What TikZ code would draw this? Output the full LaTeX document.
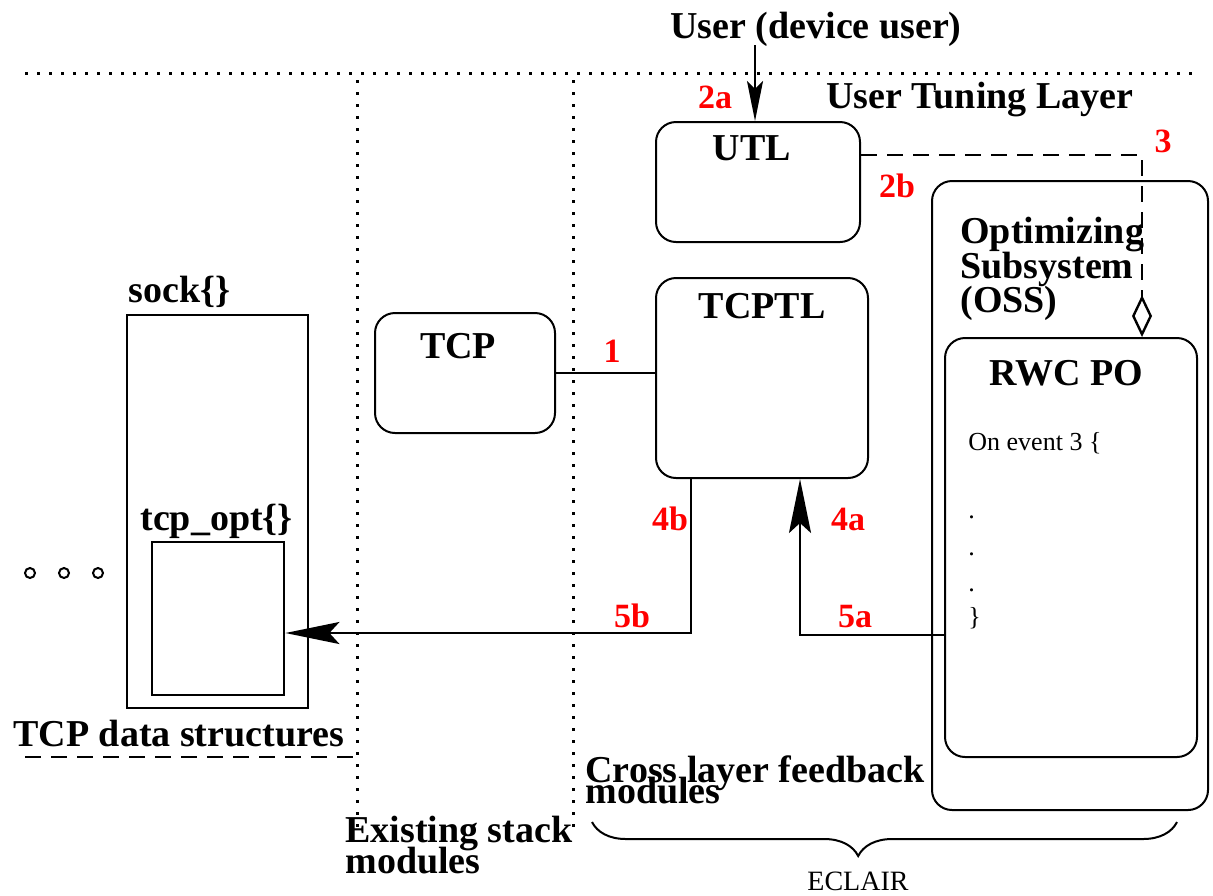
\documentclass[tikz,border=0pt]{standalone}
\usepackage{fontspec}
\setmainfont{Liberation Serif}
\usetikzlibrary{arrows.meta,decorations.pathreplacing,calc}
\begin{document}
\begin{tikzpicture}[x=0.5pt,y=-0.5pt,
  lbl/.style={font=\fontsize{19}{19}\selectfont\bfseries, inner sep=0pt},
  num/.style={font=\fontsize{17}{17}\selectfont\bfseries, text=red, inner sep=0pt},
  code/.style={font=\fontsize{13}{13}\selectfont, inner sep=0pt},
  rbox/.style={draw, line width=1pt, rounded corners=10pt, inner sep=0pt},
  sbox/.style={draw, line width=1.4pt, inner sep=0pt},
  conn/.style={line width=1.2pt},
  arr/.style={conn, -{Stealth[length=27pt,width=11pt,inset=5pt]}},
  uarr/.style={conn, -{Stealth[length=20pt,width=8pt,inset=4pt]}},
  sep/.style={line width=1.5pt, dash pattern=on 1.5pt off 4.5pt},
  dashline/.style={line width=1.2pt, dash pattern=on 8pt off 5pt},
]
\useasboundingbox (0,0) rectangle (1213,895);

% separators
\draw[sep] (25,73) -- (1195,73);
\draw[sep] (357,80) -- (357,835);
\draw[sep] (573,80) -- (573,835);
\draw[dashline] (25,757) -- (357,757);

% boxes
\node[rbox, minimum width=102pt, minimum height=60pt] (utl) at (758,182) {};
\node[rbox, minimum width=106pt, minimum height=100pt] (tcptl) at (762,378) {};
\node[rbox, minimum width=90pt, minimum height=60pt] (tcp) at (465,373) {};
\node[rbox, minimum width=138pt, minimum height=314.5pt] (oss) at (1070,495.5) {};
\node[rbox, minimum width=126pt, minimum height=209.5pt] (rwc) at (1071,547.5) {};
\node[sbox, minimum width=90.5pt, minimum height=196.5pt] (sock) at (217.5,511.5) {};
\node[sbox, minimum width=66pt, minimum height=76.5pt] (tcpopt) at (218,618.5) {};

% box labels
\node[lbl, anchor=base] (utlL) at (752,160) {UTL};
\node[lbl, anchor=base] (tcptlL) at (762,318) {TCPTL};
\node[lbl, anchor=base] (tcpL) at (458,358) {TCP};
\node[lbl, anchor=base] (rwcL) at (1066,385) {RWC PO};
\node[lbl, anchor=base west] (ossL1) at (960,243) {Optimizing};
\node[lbl, anchor=base west] (ossL2) at (960,278) {Subsystem};
\node[lbl, anchor=base west] (ossL3) at (960,312) {(OSS)};
\node[lbl, anchor=base west] (sockL) at (128,302) {sock\{\}};
\node[lbl, anchor=base west] (optL) at (140,530) {tcp\_opt\{\}};

% code in RWC PO
\node[code, anchor=base west] (c1) at (968,450) {On event 3 \{};
\node[code, anchor=base west] (c2) at (968,518) {.};
\node[code, anchor=base west] (c3) at (968,555) {.};
\node[code, anchor=base west] (c4) at (968,591) {.};
\node[code, anchor=base west] (c5) at (968,625) {\}};

% other texts
\node[lbl, anchor=base] (user) at (816,38) {User (device user)};
\node[lbl, anchor=base west] (utlayer) at (826,108) {User Tuning Layer};
\node[lbl, anchor=base west] (tcpds) at (13,746) {TCP data structures};
\node[lbl, anchor=base west] (cl1) at (585,782) {Cross layer feedback};
\node[lbl, anchor=base west] (cl2) at (585,803) {modules};
\node[lbl, anchor=base west] (es1) at (345,842) {Existing stack};
\node[lbl, anchor=base west] (es2) at (345,873) {modules};
\node[font=\fontsize{14}{14}\selectfont, inner sep=0pt, anchor=base] (eclair) at (858,890) {ECLAIR};

% red numbers
\node[num, anchor=base] (n2a) at (715,108) {2a};
\node[num, anchor=base] (n2b) at (897,197) {2b};
\node[num, anchor=base] (n3) at (1163,152) {3};
\node[num, anchor=base] (n1) at (612,362) {1};
\node[num, anchor=base] (n4b) at (670,530) {4b};
\node[num, anchor=base] (n4a) at (848,530) {4a};
\node[num, anchor=base] (n5b) at (632,627) {5b};
\node[num, anchor=base] (n5a) at (855,627) {5a};

% ellipsis circles
\foreach \cx in {30,64,98} \draw[line width=1pt] (\cx,573) circle[radius=2.5pt];

% connectors
\coordinate (usr) at (755,45);
\draw[uarr] (usr) -- (usr |- utl.north);
\draw[conn] (tcp.east) -- (tcp.east -| tcptl.west);
\draw[arr] ([xshift=18pt]tcptl.south west) |- ([yshift=-7.25pt]tcpopt.east);
\draw[arr] ([yshift=-43.75pt]rwc.west) -| ([xshift=19pt]tcptl.south);
\draw[dashline, -{Diamond[open,length=21pt,width=10pt]}] ([yshift=13.5pt]utl.east) -| ([xshift=35.5pt]rwc.north);

% brace
\draw[line width=1pt, decorate, decoration={brace, mirror, amplitude=17pt, aspect=0.455}] (592,822) -- (1177,822);
\end{tikzpicture}
\end{document}
